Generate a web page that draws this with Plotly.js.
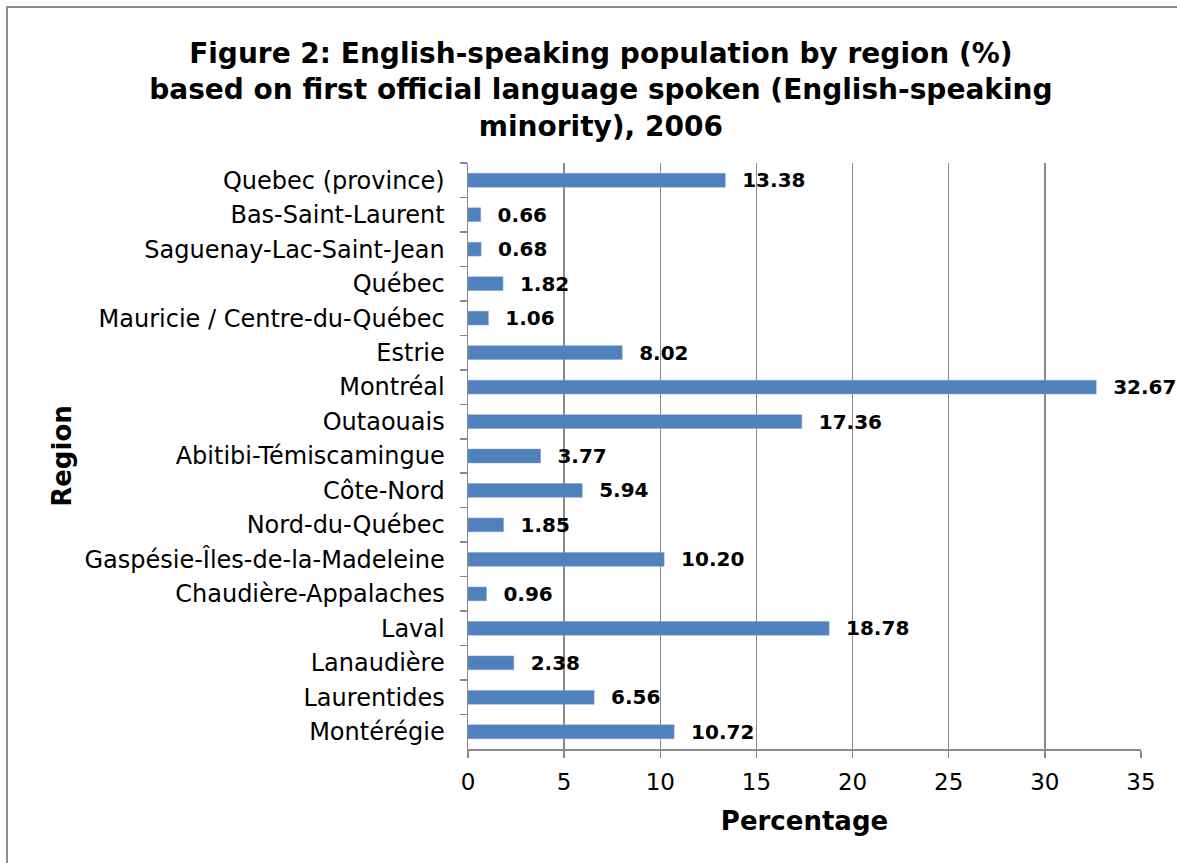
<!DOCTYPE html>
<html>
<head>
<meta charset="utf-8">
<script src="https://cdn.plot.ly/plotly-3.0.1.min.js"></script>
<style>
html,body{margin:0;padding:0;background:#fff;overflow:hidden;}
#chart{width:1177px;height:863px;position:absolute;left:0;top:0;}
#frame{position:absolute;left:6px;top:6px;width:1220px;height:920px;border:2px solid #8c8c8c;pointer-events:none;box-sizing:border-box;}
</style>
</head>
<body>
<div id="chart"></div>
<div id="frame"></div>
<script>
const regions = ["Quebec (province)","Bas-Saint-Laurent","Saguenay-Lac-Saint-Jean","Québec","Mauricie / Centre-du-Québec","Estrie","Montréal","Outaouais","Abitibi-Témiscamingue","Côte-Nord","Nord-du-Québec","Gaspésie-Îles-de-la-Madeleine","Chaudière-Appalaches","Laval","Lanaudière","Laurentides","Montérégie"];
const percentages = [13.38,0.66,0.68,1.82,1.06,8.02,32.67,17.36,3.77,5.94,1.85,10.20,0.96,18.78,2.38,6.56,10.72];
const labels = percentages.map(v => "\u00a0\u00a0" + v.toFixed(2));
const xTicks = [0,5,10,15,20,25,30,35];

const FONT = "DejaVu Sans, Verdana, sans-serif";
const trace = {
  type: "bar",
  orientation: "h",
  x: percentages,
  y: regions,
  marker: {color: "#4F81BD", line: {color: "#7a9fd0", width: 0.5}},
  text: labels,
  textposition: "outside",
  constraintext: "none",
  textfont: {family: FONT, size: 20, color: "#000", weight: "bold"},
  cliponaxis: false,
  hoverinfo: "x+y"
};
const layout = {
  width: 1177, height: 863,
  margin: {l: 468, r: 36, t: 163, b: 114},
  paper_bgcolor: "#fff", plot_bgcolor: "#fff",
  bargap: 0.6,
  showlegend: false,
  font: {family: FONT, color: "#000"},
  title: {
    text: "<b>Figure 2: English-speaking population by region (%)<br>based on first official language spoken (English-speaking<br>minority), 2006</b>",
    font: {family: FONT, size: 28, color: "#000"},
    x: 0.5105, xanchor: "center", xref: "container",
    y: 0.927, yanchor: "top", yref: "container"
  },
  xaxis: {
    range: [0, 35], tickvals: xTicks, ticktext: xTicks.map(String),
    showgrid: true, gridcolor: "#8a8a8a", gridwidth: 1.5,
    showline: true, linecolor: "#8a8a8a", linewidth: 1.5,
    ticks: "outside", ticklen: 7, tickcolor: "#8a8a8a", tickwidth: 1.5,
    ticklabelstandoff: 5,
    tickfont: {family: FONT, size: 23, color: "#000"},
    zeroline: false, fixedrange: true,
    title: {text: "<b>Percentage</b>", font: {family: FONT, size: 26, color: "#000"}, standoff: 17}
  },
  yaxis: {
    type: "category", autorange: "reversed",
    showgrid: false,
    showline: true, linecolor: "#8a8a8a", linewidth: 1.5,
    ticks: "outside", ticklen: 7, tickcolor: "#8a8a8a", tickwidth: 1.5,
    tickson: "boundaries",
    ticklabelstandoff: 17,
    tickfont: {family: FONT, size: 24, color: "#000"},
    fixedrange: true,
    title: {text: "<b>Region</b>", font: {family: FONT, size: 26, color: "#000"}, standoff: 5}
  }
};
Plotly.newPlot("chart", [trace], layout, {displayModeBar: false, staticPlot: true});
</script>
</body>
</html>
